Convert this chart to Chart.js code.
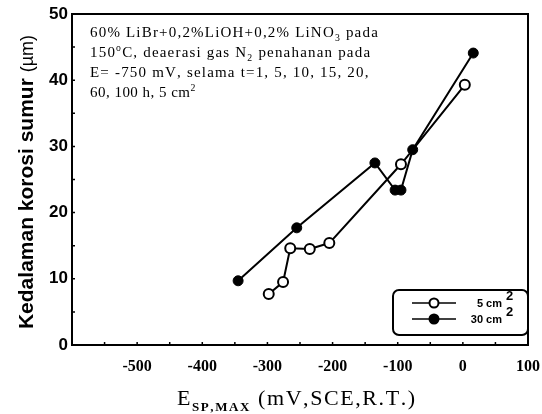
<!DOCTYPE html>
<html><head><meta charset="utf-8">
<script src="https://cdn.jsdelivr.net/npm/chart.js@4/dist/chart.umd.min.js"></script>
<style>html,body{margin:0;padding:0;background:#fff}#wrap{width:542px;height:414px;position:relative}</style>
</head><body><div id="wrap"><canvas id="c" width="542" height="414"></canvas></div>
<script>
const seriesNames = ['5 cm', '30 cm'];
const open5X = [-298, -276, -265, -235, -205, -95, 3];
const open5Y = [7.7, 9.5, 14.6, 14.5, 15.4, 27.3, 39.3];
const fill30X = [-345, -255, -135, -104, -95, -77, 16];
const fill30Y = [9.7, 17.7, 27.5, 23.4, 23.4, 29.5, 44.1];
const xTicks = [-500, -400, -300, -200, -100, 0, 100];
const yTicks = [0, 10, 20, 30, 40, 50];

const toPts = (xs, ys) => xs.map((x, i) => ({x, y: ys[i]}));

function partFont(p, size, family, weight) {
  let s = size;
  if (p.sub || p.sup) s = p.ss || size * 0.65;
  return (p.bold || weight || '') + ' ' + s + 'px ' + family;
}
function measureRich(ctx, parts, size, family, weight, ls) {
  let w = 0;
  for (const p of parts) {
    ctx.font = partFont(p, size, family, weight);
    w += ctx.measureText(p.t).width + ls * p.t.length;
  }
  return w;
}
function richText(ctx, x, y, parts, size, family, weight, ls) {
  let cx = x;
  ls = ls || 0;
  for (const p of parts) {
    let dy = 0;
    if (p.sub) dy = size * 0.25;
    if (p.sup) dy = -size * 0.4;
    ctx.font = partFont(p, size, family, weight);
    for (const ch of p.t) {
      ctx.fillText(ch, cx, y + dy);
      cx += ctx.measureText(ch).width + ls;
    }
  }
  return cx;
}

const deco = {
  id: 'deco',
  afterDraw(chart) {
    const ctx = chart.ctx, a = chart.chartArea;
    const xs = chart.scales.x, ys = chart.scales.y;
    ctx.save();
    ctx.fillStyle = '#000'; ctx.strokeStyle = '#000';
    // frame
    ctx.lineWidth = 2;
    ctx.strokeRect(a.left, a.top, a.right - a.left, a.bottom - a.top);
    // inward tick marks
    ctx.lineWidth = 1.5;
    ctx.beginPath();
    for (let v = -550; v < 100; v += 50) {
      const px = xs.getPixelForValue(v);
      ctx.moveTo(px, a.bottom); ctx.lineTo(px, a.bottom - 3);
    }
    for (let v = 5; v < 50; v += 5) {
      const py = ys.getPixelForValue(v);
      ctx.moveTo(a.left, py); ctx.lineTo(a.left + 3, py);
    }
    ctx.stroke();
    // annotation
    ctx.textAlign = 'left'; ctx.textBaseline = 'alphabetic';
    const fam = '"Liberation Serif", "Times New Roman", serif';
    const lines = [
      [{t: '60% LiBr+0,2%LiOH+0,2% LiNO'}, {t: '3', sub: true}, {t: ' pada'}],
      [{t: '150'}, {t: 'o', sup: true}, {t: 'C, deaerasi gas N'}, {t: '2', sub: true}, {t: ' penahanan pada'}],
      [{t: 'E= -750 mV, selama t=1, 5, 10, 15, 20,'}],
      [{t: '60, 100 h, 5 cm'}, {t: '2', sup: true}]
    ];
    const fs = 15;
    const w0 = measureRich(ctx, lines[0], fs, fam, '', 0);
    const nch = lines[0].reduce((n, p) => n + p.t.length, 0);
    const ls = (289 - w0) / nch;
    lines.forEach((l, i) => richText(ctx, 90, 37 + i * 20, l, fs, fam, '', i === 3 ? ls * 0.4 : ls));
    // legend box
    const bx = 393, by = 290, bw = 135, bh = 45, r = 6;
    ctx.lineWidth = 2;
    ctx.beginPath();
    ctx.roundRect(bx, by, bw, bh, r);
    ctx.stroke();
    const ds = chart.data.datasets;
    [303, 319].forEach((ly, i) => {
      ctx.lineWidth = 1.5;
      ctx.beginPath(); ctx.moveTo(412, ly); ctx.lineTo(456, ly); ctx.stroke();
      ctx.beginPath(); ctx.arc(434, ly, 4.5, 0, Math.PI * 2);
      ctx.fillStyle = ds[i].pointBackgroundColor; ctx.fill();
      ctx.lineWidth = 2; ctx.stroke();
      ctx.fillStyle = '#000';
      ctx.textAlign = 'right';
      ctx.font = 'bold 11px "Liberation Sans", Arial, sans-serif';
      ctx.fillText(ds[i].label, 502, ly + 4);
      ctx.font = 'bold 13px "Liberation Sans", Arial, sans-serif';
      ctx.textAlign = 'left';
      ctx.fillText('2', 506, ly - 3);
    });
    // y title
    ctx.save();
    ctx.translate(33, 182);
    ctx.rotate(-Math.PI / 2);
    ctx.textAlign = 'left';
    const t1 = 'Kedalaman korosi sumur ';
    const f1 = 'bold 21px "Liberation Sans", Arial, sans-serif';
    const f2 = '18px "Liberation Sans", Arial, sans-serif';
    ctx.font = f1; const w1 = ctx.measureText(t1).width;
    ctx.font = f2; const w2 = ctx.measureText('(\u00b5m)').width;
    const sx = -(w1 + w2) / 2;
    ctx.font = f1; ctx.fillText(t1, sx, 0);
    ctx.font = f2; ctx.fillText('(\u00b5m)', sx + w1, 0);
    ctx.restore();
    // x title
    ctx.textAlign = 'left';
    const xt = [{t: 'E'}, {t: 'SP,MAX', sub: true, bold: 'bold', ss: 13}, {t: ' (mV,SCE,R.T.)'}];
    const xw = measureRich(ctx, xt, 22, fam, '', 0);
    richText(ctx, 177, 405, xt, 22, fam, '', Math.max(0, (234 - xw) / 21));
    ctx.restore();
  }
};

new Chart(document.getElementById('c'), {
  type: 'scatter',
  data: {
    datasets: [
      {label: seriesNames[0], data: toPts(open5X, open5Y), showLine: true, borderColor: '#000', borderWidth: 2,
       pointRadius: 5, pointBorderWidth: 2, pointBackgroundColor: '#fff', pointBorderColor: '#000'},
      {label: seriesNames[1], data: toPts(fill30X, fill30Y), showLine: true, borderColor: '#000', borderWidth: 2,
       pointRadius: 5, pointBorderWidth: 1, pointBackgroundColor: '#000', pointBorderColor: '#000'}
    ]
  },
  options: {
    responsive: false, animation: false,
    layout: {padding: {top: 14, right: 14, left: 0, bottom: 0}},
    plugins: {legend: {display: false}, tooltip: {enabled: false}},
    scales: {
      x: {
        type: 'linear', min: -600, max: 100,
        afterFit: s => { s.height = 69; s.paddingLeft = 0; s.paddingRight = 0; },
        afterBuildTicks: s => { s.ticks = xTicks.map(v => ({value: v})); },
        grid: {display: false, drawTicks: false},
        border: {display: true, color: '#000', width: 2},
        ticks: {
          color: '#000', padding: 12, maxRotation: 0, autoSkip: false,
          font: {family: '"Liberation Serif", serif', size: 16, weight: 'bold'},
          callback: v => String(v)
        }
      },
      y: {
        type: 'linear', min: 0, max: 50,
        afterFit: s => { s.width = 72; s.paddingTop = 0; s.paddingBottom = 0; },
        afterBuildTicks: s => { s.ticks = yTicks.map(v => ({value: v})); },
        grid: {display: false, drawTicks: false},
        border: {display: true, color: '#000', width: 2},
        ticks: {
          color: '#000', padding: 4, autoSkip: false,
          font: {family: '"Liberation Sans", Arial, sans-serif', size: 17, weight: 'bold'},
          callback: v => String(v)
        }
      }
    }
  },
  plugins: [deco]
});
</script></body></html>
